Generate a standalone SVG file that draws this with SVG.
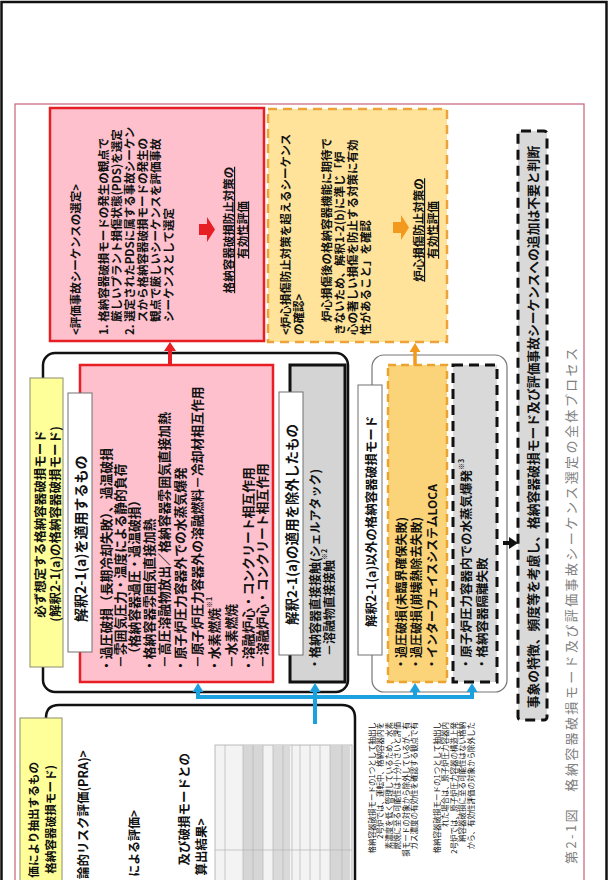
<svg xmlns="http://www.w3.org/2000/svg" width="608" height="880" viewBox="0 0 608 880">
<defs>
<style>
text { font-family: "Noto Sans CJK JP", "Noto Sans", sans-serif; dominant-baseline: central; fill: #111; }
.b { font-weight: 700; }
.f11 { font-size: 11.5px; }
.f12 { font-size: 12px; }
.f125 { font-size: 12.5px; }
.f128 { font-size: 12.8px; }
.f13 { font-size: 13.5px; }
.f14 { font-size: 14px; }
.fp { font-size: 7.5px; }
.m { text-anchor: middle; }
.e { text-anchor: end; }
.u { text-decoration: underline; }
.sup { font-size: 7px; }
.pink { fill: #FDC0CC; stroke: #E81E25; stroke-width: 2.5; }
.lbl { fill: #ffffff; stroke: #707070; stroke-width: 1; }
.ylw { fill: #FFFF99; stroke: #8C8C70; stroke-width: 1; }
.frame { fill: none; stroke: #111; stroke-width: 2.5; }
.blue { fill: none; stroke: #1CA0DE; stroke-width: 4; }
</style>
</defs>
<rect width="608" height="880" fill="#ffffff"/>
<rect x="1.5" y="2" width="605" height="900" fill="none" stroke="#111" stroke-width="2.5"/>
<rect x="15" y="104" width="569" height="800" fill="none" stroke="#C9627A" stroke-width="1.2"/>

<g id="eval-sequence">
  <rect class="pink" x="50" y="108" width="214" height="233"/>
  <polygon points="199,224 207,224 207,217 215,229.5 207,242 207,235 199,235" fill="#E81E25"/>
  <g transform="rotate(-90)">
    <text class="b f11" x="-335" y="75">&lt;評価事故シーケンスの選定&gt;</text>
    <text class="b f11" x="-335" y="103">1. 格納容器破損モードの発生の観点で</text>
    <text class="b f11" x="-322" y="116">厳しいプラント損傷状態(PDS)を選定</text>
    <text class="b f11" x="-335" y="129">2. 選定されたPDSに属する事故シーケン</text>
    <text class="b f11" x="-322" y="142">スから格納容器破損モードの発生の</text>
    <text class="b f11" x="-322" y="155">観点で厳しいシーケンスを評価事故</text>
    <text class="b f11" x="-322" y="168">シーケンスとして選定</text>
    <text class="b f11 m u" x="-230" y="228">格納容器破損防止対策の</text>
    <text class="b f11 m u" x="-230" y="242">有効性評価</text>
  </g>
</g>

<g id="core-damage-check">
  <rect x="268" y="109" width="179" height="233" fill="#FFE39B" stroke="#EDA23A" stroke-width="2.5" stroke-dasharray="9 6"/>
  <polygon points="393,222 401,222 401,215 409,227.5 401,240 401,233 393,233" fill="#F39A1E"/>
  <g transform="rotate(-90)">
    <text class="b f11" x="-335" y="285">&lt;炉心損傷防止対策を超えるシーケンス</text>
    <text class="b f11" x="-335" y="298">の確認&gt;</text>
    <text class="b f11" x="-322" y="326">炉心損傷後の格納容器機能に期待で</text>
    <text class="b f11" x="-335" y="339">きないため、解釈1-2(b)に準じ「炉</text>
    <text class="b f11" x="-335" y="352">心の著しい損傷を防止する対策に有効</text>
    <text class="b f11" x="-335" y="365">性があること」を確認</text>
    <text class="b f11 m u" x="-230" y="418">炉心損傷防止対策の</text>
    <text class="b f11 m u" x="-230" y="432">有効性評価</text>
  </g>
</g>

<g id="frame-mandatory">
  <rect class="frame" x="43" y="353" width="305" height="339" rx="12"/>
</g>
<g id="frame-other">
  <rect x="372" y="355" width="135" height="337" rx="12" fill="none" stroke="#777" stroke-width="1.2"/>
</g>
<g id="frame-pra">
  <path class="frame" d="M46 905 V718 Q46 705 59 705 H342 Q355 705 355 718 V905"/>
</g>

<g id="mandatory-label">
  <rect class="ylw" x="30" y="378" width="33" height="289"/>
  <g transform="rotate(-90)">
    <text class="b f125 m" x="-524" y="39">必ず想定する格納容器破損モード</text>
    <text class="b f125 m" x="-524" y="54">(解釈2-1(a)の格納容器破損モード)</text>
  </g>
</g>

<g id="applied-modes">
  <rect class="pink" x="80" y="365" width="193" height="317"/>
  <g transform="rotate(-90)">
    <text class="b f128" x="-672" y="105">・過圧破損（長期冷却失敗）、過温破損</text>
    <text class="b f128" x="-668" y="119">－雰囲気圧力・温度による静的負荷</text>
    <text class="b f128" x="-660" y="133">（格納容器過圧・過温破損）</text>
    <text class="b f128" x="-672" y="148">・格納容器雰囲気直接加熱</text>
    <text class="b f128" x="-668" y="163">－高圧溶融物放出／格納容器雰囲気直接加熱</text>
    <text class="b f128" x="-672" y="179">・原子炉圧力容器外での水蒸気爆発</text>
    <text class="b f128" x="-668" y="196">－原子炉圧力容器外の溶融燃料－冷却材相互作用</text>
    <text class="b f128" x="-672" y="213">・水素燃焼<tspan class="sup" dy="-4">※1</tspan></text>
    <text class="b f128" x="-668" y="230">－水素燃焼</text>
    <text class="b f128" x="-672" y="247">・溶融炉心・コンクリート相互作用</text>
    <text class="b f128" x="-668" y="261">－溶融炉心・コンクリート相互作用</text>
  </g>
  <rect class="lbl" x="68" y="393" width="24" height="259"/>
  <g transform="rotate(-90)">
    <text class="b f14" x="-622" y="80">解釈2-1(a)を適用するもの</text>
  </g>
</g>

<g id="excluded-modes">
  <rect x="290" y="365" width="55" height="317" fill="#D4D4D4" stroke="#111" stroke-width="3"/>
  <g transform="rotate(-90)">
    <text class="b f12" x="-670" y="314">・格納容器直接接触(シェルアタック)</text>
    <text class="b f12" x="-656" y="328">－溶融物直接接触<tspan class="sup" dy="-4">※2</tspan></text>
  </g>
  <rect class="lbl" x="279" y="392" width="24" height="263"/>
  <g transform="rotate(-90)">
    <text class="b f13" x="-625" y="291">解釈2-1(a)の適用を除外したもの</text>
  </g>
</g>

<g id="other-label">
  <rect class="lbl" x="358" y="385" width="24" height="270"/>
  <g transform="rotate(-90)">
    <text class="b f125" x="-627" y="370">解釈2-1(a)以外の格納容器破損モード</text>
  </g>
</g>

<g id="other-core-modes">
  <rect x="388" y="365" width="59" height="317" fill="#FBD378" stroke="#EBA332" stroke-width="2.5" stroke-dasharray="8 5"/>
  <g transform="rotate(-90)">
    <text class="b f12" x="-670" y="400">・過圧破損(未臨界確保失敗)</text>
    <text class="b f12" x="-670" y="415">・過圧破損(崩壊熱除去失敗)</text>
    <text class="b f12" x="-670" y="431">・インターフェイスシステムLOCA</text>
  </g>
</g>

<g id="other-minor-modes">
  <rect x="453" y="365" width="44" height="317" fill="#D9D9D9" stroke="#111" stroke-width="3" stroke-dasharray="10 6"/>
  <g transform="rotate(-90)">
    <text class="b f125" x="-670" y="465">・原子炉圧力容器内での水蒸気爆発<tspan class="sup" dy="-4">※3</tspan></text>
    <text class="b f125" x="-670" y="481">・格納容器隔離失敗</text>
  </g>
</g>

<g id="no-addition">
  <rect x="518" y="131" width="29" height="589" rx="3" fill="#D9D9D9" stroke="#111" stroke-width="3" stroke-dasharray="10 6"/>
  <g transform="rotate(-90)">
    <text class="b f128 m" x="-427" y="532">事象の特徴、頻度等を考慮し、格納容器破損モード及び評価事故シーケンスへの追加は不要と判断</text>
  </g>
</g>

<g id="pra-modes">
  <rect class="ylw" x="20" y="718" width="42" height="190"/>
  <g transform="rotate(-90)">
    <text class="b e" style="font-size:11.6px" x="-762" y="33">価により抽出するもの</text>
    <text class="b e" style="font-size:11.6px" x="-765" y="50">格納容器破損モード)</text>
    <text class="b f125 e" x="-750" y="82">論的リスク評価(PRA)&gt;</text>
    <text class="b f12 e" x="-810" y="133">による評価&gt;</text>
    <text class="b f125 e" x="-753" y="183">及び破損モードとの</text>
    <text class="b f125 e" x="-818" y="200">算出結果&gt;</text>
  </g>
  <g id="pra-table">
    <rect x="215" y="745" width="137" height="160" fill="#F3F3F3" stroke="#AAAAAA" stroke-width="0.8"/>
    <rect x="243" y="745" width="20" height="160" fill="#D6D6D6"/>
    <rect x="273" y="745" width="17" height="160" fill="#DADADA"/>
    <rect x="330" y="745" width="20" height="160" fill="#D6D6D6"/>
    <path d="M225 745 V905 M243 745 V905 M253 745 V905 M263 745 V905 M273 745 V905 M283 745 V905 M292 745 V905 M300 745 V905 M310 745 V905 M320 745 V905 M330 745 V905 M342 745 V905 M215 850 H352" stroke="#B5B5B5" stroke-width="0.7" fill="none"/>
  </g>
  <g transform="rotate(-90)">
    <text class="fp e" x="-722" y="371">格納容器破損モードの1つとして抽出し</text>
    <text class="fp e" x="-722" y="379.5">2号炉では、運転中、格納容器内を</text>
    <text class="fp e" x="-722" y="388">素濃度を低く管理しているため、水素</text>
    <text class="fp e" x="-722" y="396.5">燃焼に至る可能性は十分小さいと評価</text>
    <text class="fp e" x="-722" y="405">損モードの対象から除外しているが、有</text>
    <text class="fp e" x="-722" y="413.5">ガス濃度の有効性を確認する観点で有</text>
    <text class="fp e" x="-722" y="436">格納容器破損モードの1つとして抽出し</text>
    <text class="fp e" x="-722" y="444.5">れた場合は、原子炉圧力容器内</text>
    <text class="fp e" x="-722" y="453">2号炉では、原子炉圧力容器の構造上発</text>
    <text class="fp e" x="-722" y="461.5">納容器破損に至る可能性はない格納</text>
    <text class="fp e" x="-722" y="470">から、有効性評価の対象から除外した</text>
  </g>
</g>

<g id="connectors">
  <path class="blue" d="M198 691 V697 H472 V691 M315 724 V691 M415 697 V691"/>
  <polygon points="192.5,692 203.5,692 198,683" fill="#1CA0DE"/>
  <polygon points="309.5,692 320.5,692 315,683" fill="#1CA0DE"/>
  <polygon points="409.5,692 420.5,692 415,683" fill="#1CA0DE"/>
  <polygon points="466.5,692 477.5,692 472,683" fill="#1CA0DE"/>
  <path d="M170 365 V350" stroke="#E81E25" stroke-width="4" fill="none"/>
  <polygon points="164,351 176,351 170,342" fill="#E81E25"/>
  <path d="M415 365 V351" stroke="#F39A1E" stroke-width="3.5" fill="none"/>
  <polygon points="409.5,352 420.5,352 415,343" fill="#F39A1E"/>
  <path d="M503 543 H510" stroke="#111" stroke-width="4" fill="none"/>
  <polygon points="509,537 509,549 518,543" fill="#111"/>
</g>

<g id="caption">
  <g transform="rotate(-90)">
    <text x="-864" y="570" style="font-size:13px;letter-spacing:2.4px;fill:#808080">第2-1図　格納容器破損モード及び評価事故シーケンス選定の全体プロセス</text>
  </g>
</g>
</svg>
